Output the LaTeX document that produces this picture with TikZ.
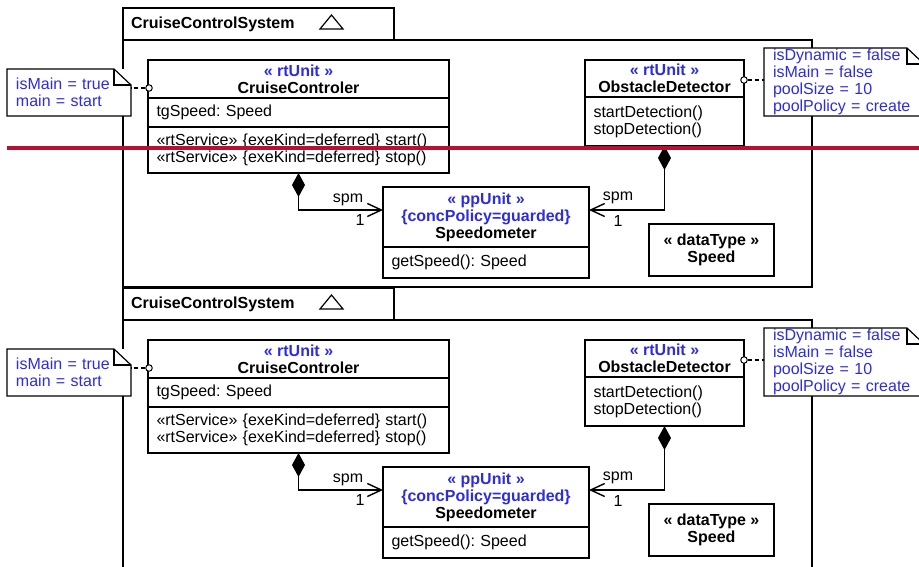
\documentclass[tikz,border=0pt]{standalone}
\usepackage{fontspec}
\setmainfont{Liberation Sans}
\usetikzlibrary{arrows.meta,calc}
\definecolor{umlblue}{RGB}{45,45,220}
\definecolor{cutred}{RGB}{185,15,50}
\frenchspacing
\newcommand\uml{\fontsize{16}{17}\selectfont}
\newcommand\stereo[1]{\textcolor{umlblue}{« #1 »}}
% note outline with folded corner, drawn over a named note node
\newcommand\notefold[1]{%
  \draw[line width=1.2pt] (#1.north west) -- ([xshift=-17pt]#1.north east)
    -- ([yshift=-16pt]#1.north east) -- (#1.south east) -- (#1.south west) -- cycle;
  \draw[line width=1.2pt] ([xshift=-17pt]#1.north east) |- ([yshift=-16pt]#1.north east);}

\begin{document}
\begin{tikzpicture}[x=1pt,y=-1pt,font=\uml,
  box/.style={draw,fill=white,line width=1.8pt,anchor=north west,inner sep=0pt,outer sep=0pt},
  hdr/.style={box,align=center,font=\uml\bfseries},
  cmp/.style={box,align=left,inner xsep=8.5pt},
  note/.style={fill=white,anchor=north west,align=left,inner xsep=9pt,inner ysep=0pt,outer sep=0pt,text=umlblue},
  port/.style={circle,draw,fill=white,line width=1pt,inner sep=0pt,minimum size=6.5pt},
  dep/.style={line width=1.2pt,dash pattern=on 4pt off 3pt},
  comp/.style={line width=1.4pt,{Diamond[length=24pt,width=13pt]}-{Straight Barb[length=14pt,width=13pt]}},
  lbl/.style={inner sep=0pt}]
\useasboundingbox (0,0) rectangle (919,567);
\clip (0,0) rectangle (919,567);

\foreach \oy/\fh/\s in {0/247/a,280/300/b}{
\begin{scope}[yshift=-\oy pt]
% package frame
\node[box,minimum height=\fh pt,minimum width=689pt] (sys\s) at (123,40) {};
\node[box,minimum height=32pt,text width=255pt,inner xsep=8pt,align=left,font=\uml\bfseries] (tab\s) at (123,8) {CruiseControlSystem};
\draw[line width=1.2pt] ($(tab\s.west)+(197,5)$) -- ++(23,0) -- ++(-11.5,-14) -- cycle;

% classes
\node[hdr,minimum width=301pt,minimum height=38pt] (cch\s) at (148,60) {\stereo{rtUnit}\\CruiseControler};
\node[cmp,text width=284pt,minimum height=29pt] (cca\s) at (cch\s.south west) {tgSpeed: Speed};
\node[cmp,text width=284pt,minimum height=46pt] (cco\s) at (cca\s.south west)
  {«rtService» \{exeKind=deferred\} start()\\«rtService» \{exeKind=deferred\} stop()};
\node[hdr,minimum width=206pt,minimum height=60pt] (spdh\s) at (383,187)
  {\stereo{ppUnit}\\\textcolor{umlblue}{\{concPolicy=guarded\}}\\Speedometer};
\node[cmp,text width=189pt,minimum height=31pt] (spdo\s) at (spdh\s.south west) {getSpeed(): Speed};
\node[hdr,minimum width=159pt,minimum height=37pt] (odh\s) at (585,60) {\stereo{rtUnit}\\ObstacleDetector};
\node[cmp,text width=142pt,minimum height=49pt] (odo\s) at (odh\s.south west) {startDetection()\\stopDetection()};
\node[hdr,minimum width=125pt,minimum height=52pt] (spt\s) at (649,224) {« dataType »\\Speed};

% compositions
\draw[comp] (cco\s.south) |- ([yshift=7pt]spdh\s.west);
\draw[comp] (odo\s.south) |- ([yshift=7pt]spdh\s.east);
\node[lbl] (r1\s) at ($(spdh\s.west)+(-35,-17)$) {spm};
\node[lbl] (m1\s) at ($(spdh\s.west)+(-23,3)$) {1};
\node[lbl] (r2\s) at ($(spdh\s.east)+(29,-19)$) {spm};
\node[lbl] (m2\s) at ($(spdh\s.east)+(29,4)$) {1};

% tagged values
\node[port] (pc\s) at (149,88) {};
\node[port] (po\s) at (744,80) {};
\node[note,text width=106pt,minimum height=47pt] (nl\s) at (7,69) {isMain = true\\main = start};
\notefold{nl\s}
\node[note,text width=142pt,minimum height=68pt] (nr\s) at (764,48)
  {isDynamic = false\\isMain = false\\poolSize = 10\\poolPolicy = create};
\notefold{nr\s}
\draw[dep] (pc\s.west) -- (pc\s.west -| nl\s.east);
\draw[dep] (po\s.east) -- (po\s.east -| nr\s.west);
\end{scope}
}

\draw[cutred,line width=4.5pt] (7,148) -- (930,148);
\end{tikzpicture}
\end{document}
